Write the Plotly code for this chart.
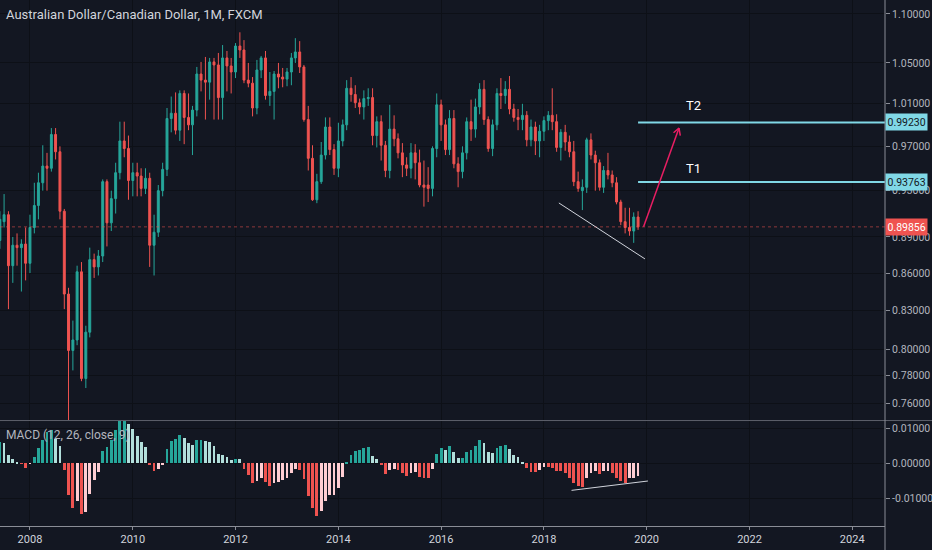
import math
import pandas as pd
import plotly.graph_objects as go

# ---------------- data ----------------
start_month = "2007-06-01"
opens = [0.887, 0.903, 0.909, 0.866, 0.883, 0.881, 0.884,
         0.868, 0.898, 0.917, 0.937, 0.952, 0.950, 0.981, 0.965, 0.912, 0.843, 0.799, 0.807,
         0.861, 0.778, 0.813, 0.871, 0.865, 0.874, 0.938, 0.902, 0.923, 0.946, 0.975, 0.968,
         0.939, 0.946, 0.943, 0.932, 0.941, 0.883, 0.894, 0.930, 0.949, 0.996, 1.001, 0.985,
         1.020, 0.997, 0.990, 1.004, 1.039, 1.033, 1.031, 1.051, 1.048, 1.016, 1.055, 1.047,
         1.041, 1.067, 1.063, 1.033, 1.030, 1.006, 1.043, 1.055, 1.018, 1.022, 1.039, 1.036,
         1.034, 1.041, 1.055, 1.061, 1.046, 0.995, 0.959, 0.922, 0.938, 0.962, 0.988, 0.967,
         0.950, 0.975, 0.990, 1.025, 1.019, 1.011, 1.007, 1.015, 1.016, 0.980, 0.993, 0.971,
         0.948, 0.986, 0.977, 0.964, 0.953, 0.950, 0.964, 0.955, 0.935, 0.935, 0.932, 0.968,
         1.009, 0.990, 0.967, 0.996, 0.954, 0.947, 0.964, 0.993, 0.986, 1.007, 1.024, 0.995,
         0.968, 0.990, 1.020, 1.018, 1.024, 1.005, 0.997, 0.995, 0.999, 0.976, 0.988, 0.975,
         0.984, 0.994, 0.999, 0.993, 0.969, 0.983, 0.974, 0.965, 0.938, 0.930, 0.933, 0.976,
         0.962, 0.955, 0.933, 0.948, 0.944, 0.937, 0.920, 0.903, 0.898, 0.895, 0.907]
highs = [0.912, 0.927, 0.912, 0.890, 0.893, 0.888, 0.898,
         0.909, 0.937, 0.946, 0.971, 0.964, 0.987, 0.987, 0.970, 0.914, 0.848, 0.822, 0.866,
         0.869, 0.818, 0.881, 0.876, 0.879, 0.940, 0.940, 0.930, 0.955, 0.993, 0.993, 0.980,
         0.955, 0.955, 0.950, 0.950, 0.946, 0.909, 0.935, 0.955, 1.006, 1.017, 1.021, 1.023,
         1.023, 1.020, 1.008, 1.046, 1.051, 1.056, 1.055, 1.055, 1.060, 1.068, 1.062, 1.055,
         1.070, 1.081, 1.073, 1.050, 1.036, 1.053, 1.057, 1.062, 1.041, 1.042, 1.050, 1.045,
         1.045, 1.060, 1.075, 1.072, 1.048, 1.008, 0.971, 0.945, 0.974, 0.997, 0.997, 0.972,
         0.992, 0.995, 1.033, 1.036, 1.028, 1.015, 1.023, 1.025, 1.025, 0.998, 0.999, 0.975,
         1.009, 0.999, 0.982, 0.973, 0.960, 0.973, 0.972, 0.967, 0.957, 0.951, 0.970, 1.020,
         1.014, 0.995, 1.004, 1.004, 0.960, 0.970, 0.997, 1.014, 1.015, 1.030, 1.033, 0.998,
         0.995, 1.025, 1.035, 1.032, 1.037, 1.010, 1.005, 1.010, 1.003, 0.995, 0.993, 0.990,
         0.998, 1.003, 1.025, 1.000, 0.986, 0.990, 0.980, 0.975, 0.947, 0.940, 0.978, 0.982,
         0.966, 0.958, 0.952, 0.964, 0.948, 0.942, 0.922, 0.915, 0.915, 0.911, 0.912]
lows = [0.880, 0.898, 0.831, 0.852, 0.866, 0.845, 0.854,
        0.860, 0.893, 0.905, 0.930, 0.930, 0.947, 0.958, 0.905, 0.831, 0.742, 0.784, 0.803,
        0.776, 0.771, 0.809, 0.856, 0.858, 0.869, 0.882, 0.895, 0.910, 0.940, 0.960, 0.922,
        0.925, 0.925, 0.925, 0.927, 0.865, 0.858, 0.890, 0.925, 0.943, 0.983, 0.981, 0.975,
        0.972, 0.985, 0.962, 0.998, 1.022, 0.995, 1.014, 0.995, 0.995, 0.995, 1.022, 1.020,
        1.035, 1.055, 1.030, 1.026, 0.998, 1.000, 1.035, 1.014, 1.008, 0.995, 1.025, 1.026,
        1.027, 1.028, 1.050, 1.040, 0.993, 0.948, 0.921, 0.919, 0.936, 0.958, 0.962, 0.944,
        0.942, 0.970, 0.985, 1.012, 1.006, 1.000, 0.995, 1.008, 0.971, 0.969, 0.957, 0.942,
        0.941, 0.970, 0.959, 0.942, 0.943, 0.941, 0.940, 0.933, 0.916, 0.920, 0.925, 0.960,
        0.975, 0.962, 0.962, 0.950, 0.933, 0.941, 0.958, 0.975, 0.978, 1.000, 0.990, 0.965,
        0.961, 0.985, 1.005, 1.010, 1.000, 0.993, 0.985, 0.985, 0.970, 0.970, 0.962, 0.960,
        0.975, 0.985, 0.985, 0.965, 0.957, 0.966, 0.960, 0.934, 0.929, 0.913, 0.928, 0.958,
        0.930, 0.930, 0.928, 0.940, 0.933, 0.918, 0.900, 0.893, 0.891, 0.885, 0.896]
closes = [0.905, 0.909, 0.866, 0.883, 0.881, 0.884, 0.868,
          0.898, 0.917, 0.937, 0.952, 0.950, 0.981, 0.965, 0.912, 0.843, 0.799, 0.807, 0.861,
          0.778, 0.813, 0.871, 0.865, 0.874, 0.938, 0.902, 0.923, 0.946, 0.975, 0.968, 0.939,
          0.946, 0.943, 0.932, 0.941, 0.883, 0.894, 0.930, 0.949, 0.996, 1.001, 0.985, 1.020,
          0.997, 0.990, 1.004, 1.039, 1.033, 1.031, 1.051, 1.048, 1.016, 1.055, 1.047, 1.041,
          1.067, 1.063, 1.033, 1.030, 1.006, 1.043, 1.055, 1.018, 1.022, 1.039, 1.036, 1.034,
          1.041, 1.055, 1.061, 1.046, 0.995, 0.959, 0.922, 0.938, 0.962, 0.988, 0.967, 0.950,
          0.975, 0.990, 1.025, 1.019, 1.011, 1.007, 1.015, 1.016, 0.980, 0.993, 0.971, 0.948,
          0.986, 0.977, 0.964, 0.953, 0.950, 0.964, 0.955, 0.935, 0.933, 0.932, 0.968, 1.009,
          0.990, 0.967, 0.996, 0.954, 0.947, 0.964, 0.993, 0.986, 1.007, 1.024, 0.995, 0.968,
          0.990, 1.020, 1.018, 1.024, 1.005, 0.997, 0.995, 0.999, 0.976, 0.988, 0.975, 0.984,
          0.994, 0.999, 0.993, 0.969, 0.983, 0.974, 0.965, 0.938, 0.932, 0.933, 0.976, 0.962,
          0.955, 0.933, 0.948, 0.944, 0.937, 0.920, 0.903, 0.898, 0.895, 0.907, 0.89856]
macd_hist = [0.0062, 0.0058, 0.0025, 0.0011, 0.0005, -0.0002, -0.0014,
             -0.0002, 0.0017, 0.0043, 0.0068, 0.0090, 0.0097, 0.0070, 0.0051, -0.0019, -0.0092, -0.0130, -0.0110,
             -0.0147, -0.0139, -0.0089, -0.0048, -0.0026, 0.0035, 0.0048, 0.0066, 0.0097, 0.0124, 0.0128, 0.0112,
             0.0100, 0.0080, 0.0061, 0.0046, -0.0004, -0.0023, -0.0016, -0.0003, 0.0042, 0.0064, 0.0069, 0.0083,
             0.0073, 0.0058, 0.0054, 0.0068, 0.0068, 0.0064, 0.0061, 0.0051, 0.0027, 0.0025, 0.0019, 0.0010,
             0.0013, 0.0012, -0.0016, -0.0033, -0.0058, -0.0050, -0.0043, -0.0055, -0.0065, -0.0058, -0.0053, -0.0048,
             -0.0043, -0.0029, -0.0016, -0.0019, -0.0045, -0.0094, -0.0128, -0.0152, -0.0137, -0.0110, -0.0092, -0.0090,
             -0.0070, -0.0040, 0.0003, 0.0025, 0.0035, 0.0039, 0.0043, 0.0046, 0.0020, 0.0013, -0.0004, -0.0031,
             -0.0018, -0.0016, -0.0019, -0.0029, -0.0036, -0.0029, -0.0026, -0.0039, -0.0041, -0.0041, -0.0016, 0.0027,
             0.0043, 0.0039, 0.0051, 0.0032, 0.0014, 0.0014, 0.0032, 0.0037, 0.0051, 0.0068, 0.0058, 0.0034,
             0.0029, 0.0043, 0.0051, 0.0053, 0.0040, 0.0025, 0.0017, 0.0003, -0.0014, -0.0026, -0.0026, -0.0019,
             -0.0012, -0.0012, -0.0014, -0.0023, -0.0023, -0.0029, -0.0041, -0.0058, -0.0065, -0.0068, -0.0041, -0.0029,
             -0.0023, -0.0031, -0.0023, -0.0021, -0.0029, -0.0041, -0.0050, -0.0058, -0.0043, -0.0041, -0.0036]

price_ticks = [0.76, 0.78, 0.80, 0.83, 0.86, 0.89, 0.93, 0.97, 1.01, 1.05, 1.10]
macd_ticks = [-0.01, 0.0, 0.01]
year_ticks = [2008, 2010, 2012, 2014, 2016, 2018, 2020, 2022, 2024]

last_price = 0.89856
target_t1 = 0.93763
target_t2 = 0.99230

# drawing annotations (user-drawn objects on the chart)
targets_start = "2019-11-01"
arrow_from = ("2019-12-10", 0.8986)
arrow_to = ("2020-08-18", 0.987)
price_trend = (("2018-04-17", 0.9192), ("2019-12-20", 0.8716))
macd_trend = (("2018-07-16", -0.0078), ("2020-01-10", -0.0051))
label_t2 = ("2020-12-01", 1.008)
label_t1 = ("2020-12-01", 0.950)

# ---------------- styling ----------------
BG = "#131722"
GRID = "#0d1017"
AXIS = "#8a8d96"
TXT = "#b2b5be"
UP = "#26a69a"
DOWN = "#ef5350"
TGT = "#80d8e6"
FONT = "Roboto"
TICK_SIZE = 10.5
x_range = ["2007-06-02", "2024-08-21"]

dates = pd.date_range(start_month, periods=len(closes), freq="MS")

hist_colors = []
for i, h in enumerate(macd_hist):
    prev = macd_hist[i - 1] if i > 0 else h
    if h >= 0:
        hist_colors.append(UP if h >= prev else "#b2dfdb")
    else:
        hist_colors.append("#ffcdd2" if h > prev else DOWN)

fig = go.Figure()

fig.add_trace(go.Candlestick(
    x=dates, open=opens, high=highs, low=lows, close=closes,
    increasing=dict(line=dict(color=UP, width=1), fillcolor=UP),
    decreasing=dict(line=dict(color=DOWN, width=1), fillcolor=DOWN),
    whiskerwidth=0, hoverinfo="skip", xaxis="x", yaxis="y"))

# last price dotted line
fig.add_trace(go.Scatter(x=x_range, y=[last_price, last_price], mode="lines",
                         line=dict(color=DOWN, width=1, dash="dot"), opacity=0.55,
                         hoverinfo="skip", xaxis="x", yaxis="y"))
# target lines
for tv in (target_t1, target_t2):
    fig.add_trace(go.Scatter(x=[targets_start, x_range[1]], y=[tv, tv], mode="lines",
                             line=dict(color=TGT, width=2), hoverinfo="skip",
                             xaxis="x", yaxis="y"))
# price trend line
fig.add_trace(go.Scatter(x=[price_trend[0][0], price_trend[1][0]],
                         y=[price_trend[0][1], price_trend[1][1]], mode="lines",
                         line=dict(color="#d1d4dc", width=1), hoverinfo="skip",
                         xaxis="x", yaxis="y"))
# arrow shaft
fig.add_trace(go.Scatter(x=[arrow_from[0], arrow_to[0]], y=[arrow_from[1], arrow_to[1]],
                         mode="lines", line=dict(color="#e91e63", width=1.5),
                         hoverinfo="skip", xaxis="x", yaxis="y"))

# MACD histogram
fig.add_trace(go.Bar(x=dates, y=macd_hist, marker=dict(color=hist_colors, line=dict(width=0)),
                     width=20 * 86400000, hoverinfo="skip", xaxis="x2", yaxis="y2"))
fig.add_trace(go.Scatter(x=[macd_trend[0][0], macd_trend[1][0]],
                         y=[macd_trend[0][1], macd_trend[1][1]], mode="lines",
                         line=dict(color="#d1d4dc", width=1), hoverinfo="skip",
                         xaxis="x2", yaxis="y2"))

L = math.log10
annotations = []
# arrow head (open chevron)
for dx, dy in ((-7, 6), (1.5, 9)):
    annotations.append(dict(x=arrow_to[0], y=L(arrow_to[1]), xref="x", yref="y",
                            ax=dx, ay=dy, showarrow=True, arrowhead=0,
                            arrowwidth=1.5, arrowcolor="#e91e63", text=""))
for txt, pos in (("T2", label_t2), ("T1", label_t1)):
    annotations.append(dict(x=pos[0], y=L(pos[1]), xref="x", yref="y", text=txt,
                            showarrow=False, font=dict(family=FONT, size=13, color="#ffffff")))
# axis price labels
for val, bg, fc in ((target_t2, TGT, BG), (target_t1, TGT, BG), (last_price, DOWN, "#ffffff")):
    annotations.append(dict(x=1, y=L(val), xref="paper", yref="y", xanchor="left",
                            xshift=0, text=f"{val:.5f}", showarrow=False, bgcolor=bg,
                            borderpad=1.5, font=dict(family=FONT, size=TICK_SIZE, color=fc)))
annotations.append(dict(x=0, y=1, xref="paper", yref="paper", xanchor="left", yanchor="top",
                        xshift=4, yshift=-5, showarrow=False,
                        text="Australian Dollar/Canadian Dollar, 1M, FXCM",
                        font=dict(family=FONT, size=13, color="#d1d4dc")))
annotations.append(dict(x=0, y=0.1996, xref="paper", yref="paper", xanchor="left", yanchor="top",
                        xshift=4, yshift=-5, showarrow=False,
                        text="MACD (12, 26, close, 9)",
                        font=dict(family=FONT, size=12, color=TXT)))

shapes = [
    dict(type="line", xref="paper", yref="paper", x0=0, x1=932 / 885, y0=0.2005, y1=0.2005,
         line=dict(color="#5d606b", width=1)),
    dict(type="line", xref="paper", yref="paper", x0=1, x1=1, y0=-0.06, y1=1,
         line=dict(color=AXIS, width=1)),
]

year_vals = [f"{y}-01-01" for y in year_ticks]
fig.update_layout(
    width=932, height=550, autosize=False,
    margin=dict(l=0, r=47, t=0, b=24, autoexpand=False),
    paper_bgcolor=BG, plot_bgcolor=BG,
    showlegend=False, hovermode=False, bargap=0,
    font=dict(family=FONT, size=TICK_SIZE, color=TXT),
    xaxis=dict(type="date", range=x_range, domain=[0, 1], anchor="y", automargin=False,
               tickvals=year_vals, showticklabels=False, ticks="",
               showgrid=True, gridcolor=GRID, gridwidth=1, zeroline=False,
               rangeslider=dict(visible=False), showline=False),
    xaxis2=dict(type="date", range=x_range, domain=[0, 1], anchor="y2", matches="x",
                automargin=False,
                tickvals=year_vals, ticktext=[str(y) for y in year_ticks],
                ticks="outside", ticklen=3, tickcolor=AXIS,
                tickfont=dict(family=FONT, size=11, color="#d1d4dc"),
                showgrid=True, gridcolor=GRID, gridwidth=1, zeroline=False,
                showline=True, linecolor=AXIS, linewidth=1),
    yaxis=dict(type="log", domain=[0.2015, 1], side="right", automargin=False,
               range=[L(0.7479), L(1.1147)],
               tickvals=price_ticks, ticktext=[f"{v:.5f}" for v in price_ticks],
               ticks="outside", ticklen=4, tickcolor=AXIS,
               tickfont=dict(family=FONT, size=TICK_SIZE, color=TXT),
               showgrid=True, gridcolor=GRID, gridwidth=1, zeroline=False,
               showline=False),
    yaxis2=dict(domain=[0, 0.1996], side="right", range=[-0.01807, 0.01219], automargin=False,
                tickvals=macd_ticks,
                ticktext=["-0.01000", "0.00000", "0.01000"],
                ticks="outside", ticklen=4, tickcolor=AXIS,
                tickfont=dict(family=FONT, size=TICK_SIZE, color=TXT),
                showgrid=True, gridcolor=GRID, gridwidth=1, zeroline=False,
                showline=False),
    annotations=annotations,
    shapes=shapes,
)

fig.write_html("out.html", config={"displayModeBar": False},
               post_script="document.body.style.margin='0';document.body.style.overflow='hidden';")
